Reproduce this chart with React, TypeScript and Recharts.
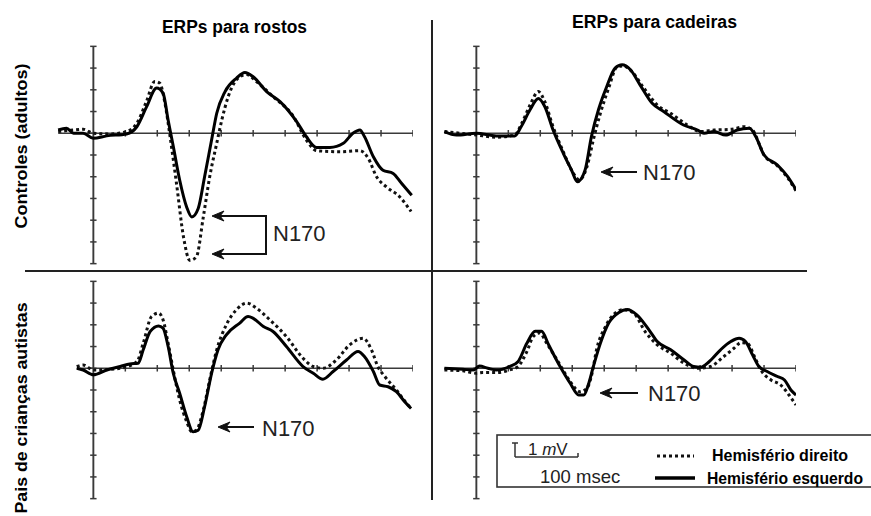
import React from 'react';
import { LineChart, Line, XAxis, YAxis, ReferenceLine } from 'recharts';

// [tempo em ms, amplitude em unidades de marca do eixo]
type Pt = [number, number];

const timeTicks = [50, 100, 150, 200, 250, 300, 350, 400, 450, 500];
const voltTicks = [-6, -5, -4, -3, -2, -1, 0, 1, 2, 3, 4];

const rostosControlesDireito: Pt[] = [
  [-55, 0.08], [-31, 0.15], [-16, 0.18], [0, 0], [26, -0.03], [52, 0.08], [68, 0.46],
  [83, 1.46], [96, 2.38], [104, 2.3], [112, 1.38], [120, -0.15], [130, -2.3], [141, -4.77],
  [151, -5.85], [161, -5.7], [172, -3.85], [182, -2.0], [193, -0.46], [201, 0.62], [211, 1.69],
  [229, 2.6], [240, 2.7], [255, 2.38], [281, 1.69], [313, 0.77], [333, -0.3], [349, -0.8],
  [385, -0.85], [417, -0.8], [430, -1.15], [443, -2.0], [458, -2.46], [479, -2.92], [497, -3.6],
];
const rostosControlesEsquerdo: Pt[] = [
  [-55, 0.15], [-42, 0.23], [-31, 0], [-16, 0], [0, -0.23], [21, -0.12], [52, -0.03], [68, 0.3],
  [83, 1.2], [99, 2.08], [109, 1.85], [117, 0.6], [125, -0.6], [135, -2.15], [146, -3.4],
  [154, -3.85], [164, -3.46], [174, -2.0], [185, -0.3], [193, 0.92], [206, 1.92], [224, 2.54],
  [237, 2.8], [250, 2.6], [271, 1.92], [292, 1.46], [318, 0.54], [333, -0.15], [349, -0.65],
  [370, -0.65], [391, -0.46], [406, 0], [417, 0.15], [424, -0.15], [438, -1.08], [453, -1.7],
  [469, -1.85], [482, -2.3], [498, -2.85],
];

const cadeirasControlesDireito: Pt[] = [
  [-50, 0.08], [0, -0.08], [31, -0.18], [60, -0.08], [71, 0.46], [84, 1.3], [97, 1.92],
  [107, 1.46], [120, 0.3], [136, -0.85], [152, -1.85], [161, -2.15], [173, -1.54], [183, -0.3],
  [194, 0.92], [207, 2.08], [220, 3.05], [230, 3.1], [243, 2.85], [262, 2.08], [283, 1.3],
  [304, 0.92], [330, 0.38], [351, 0.08], [372, 0.15], [398, 0.18], [419, 0.3], [432, 0.15],
  [442, -0.46], [450, -1.0], [471, -1.5], [487, -2.05], [500, -2.65],
];
const cadeirasControlesEsquerdo: Pt[] = [
  [-50, 0.08], [-31, -0.08], [0, 0], [31, -0.12], [60, -0.12], [70, 0.3], [84, 1.08], [97, 1.6],
  [107, 1.23], [120, 0.15], [136, -0.92], [149, -1.7], [158, -2.23], [170, -1.7], [180, -0.15],
  [191, 1.08], [204, 2.15], [217, 3.0], [228, 3.15], [241, 2.92], [256, 2.23], [275, 1.38],
  [293, 1.0], [324, 0.38], [346, 0.15], [356, 0], [372, 0.08], [390, -0.08], [408, 0.15],
  [427, 0.23], [437, -0.15], [450, -1.0], [471, -1.46], [487, -2.0], [500, -2.6],
];

const rostosPaisDireito: Pt[] = [
  [-26, 0.08], [-16, 0.15], [0, -0.08], [42, 0], [68, 0.3], [78, 1.15], [91, 2.38], [102, 2.54],
  [109, 2.23], [117, 1.15], [125, -0.08], [135, -1.46], [146, -2.46], [154, -2.92], [161, -2.85],
  [172, -1.92], [182, -0.54], [193, 0.85], [208, 2.0], [224, 2.7], [240, 3.0], [255, 2.77],
  [276, 2.23], [302, 1.46], [328, 0.46], [344, 0.08], [359, 0], [380, 0.38], [401, 1.08],
  [422, 1.38], [435, 0.85], [445, 0.08], [456, -0.38], [474, -1.0], [487, -1.5], [497, -1.85],
];
const rostosPaisEsquerdo: Pt[] = [
  [-26, 0], [-16, -0.08], [0, -0.3], [21, -0.08], [42, 0.08], [57, 0.2], [70, 0.23], [78, 0.85],
  [89, 1.7], [102, 1.95], [109, 1.85], [117, 1.0], [125, -0.23], [135, -1.15], [146, -2.23],
  [156, -2.92], [164, -2.85], [174, -1.77], [185, -0.23], [195, 0.85], [208, 1.54], [229, 2.08],
  [242, 2.38], [250, 2.3], [266, 1.92], [281, 1.69], [302, 1.0], [328, 0.08], [344, -0.23],
  [359, -0.5], [375, -0.15], [396, 0.38], [414, 0.77], [424, 0.54], [438, -0.15], [448, -0.77],
  [461, -0.85], [474, -1.08], [487, -1.54], [497, -1.85],
];

const cadeirasPaisDireito: Pt[] = [
  [-50, -0.08], [-21, -0.12], [0, -0.23], [10, -0.2], [31, -0.2], [52, -0.08], [65, 0.08],
  [79, 0.77], [89, 1.46], [99, 1.62], [110, 1.15], [131, 0.15], [147, -0.62], [162, -1.08],
  [173, -0.92], [181, -0.23], [188, 0.85], [202, 1.92], [217, 2.54], [230, 2.7], [246, 2.54],
  [264, 1.69], [283, 1.08], [304, 0.69], [325, 0.23], [346, 0], [366, 0.08], [387, 0.54],
  [403, 0.92], [414, 1.18], [424, 1.15], [435, 0.54], [445, -0.08], [461, -0.54], [476, -0.77],
  [489, -1.23], [500, -1.69],
];
const cadeirasPaisEsquerdo: Pt[] = [
  [-50, 0], [-21, -0.05], [-5, -0.08], [5, 0.1], [18, 0], [31, -0.08], [52, 0.08], [65, 0.3],
  [79, 1.15], [92, 1.7], [102, 1.7], [113, 1.08], [131, 0.08], [147, -0.7], [160, -1.23],
  [168, -1.23], [175, -0.77], [183, 0.08], [194, 1.15], [207, 2.08], [223, 2.57], [236, 2.7],
  [251, 2.46], [270, 1.77], [283, 1.23], [304, 0.85], [325, 0.38], [340, 0.08], [351, 0.05],
  [364, 0.3], [382, 0.85], [398, 1.23], [411, 1.38], [421, 1.23], [432, 0.62], [442, 0.08],
  [455, -0.15], [471, -0.38], [482, -0.54], [492, -1.0], [500, -1.23],
];

const toRows = (pts: Pt[]) => pts.map(([t, v]) => ({ t, v }));

const CHART_W = 358;
const CHART_H = 226;
const AXIS = '#3a3a3a';
const FONT = '"Liberation Sans", Arial, sans-serif';

interface PanelProps {
  left: number;
  top: number;
  axisStart: number;
  direito: Pt[];
  esquerdo: Pt[];
}

const Panel: React.FC<PanelProps> = ({ left, top, axisStart, direito, esquerdo }) => (
  <div style={{ position: 'absolute', left, top }}>
    <LineChart width={CHART_W} height={CHART_H} margin={{ top: 0, right: 0, bottom: 0, left: 0 }}>
      <XAxis type="number" dataKey="t" domain={[-60, 500]} hide allowDataOverflow />
      <YAxis type="number" domain={[-6.2, 4.2]} hide allowDataOverflow />
      <ReferenceLine segment={[{ x: axisStart, y: 0 }, { x: 500, y: 0 }]} stroke={AXIS} strokeWidth={1.7} />
      <ReferenceLine segment={[{ x: 0, y: -6 }, { x: 0, y: 4 }]} stroke={AXIS} strokeWidth={1.9} />
      {timeTicks.map((t) => (
        <ReferenceLine key={'x' + t} segment={[{ x: t, y: -0.15 }, { x: t, y: 0.15 }]} stroke={AXIS} strokeWidth={1.5} />
      ))}
      {voltTicks.map((v) => (
        <ReferenceLine key={'y' + v} segment={[{ x: -5, y: v }, { x: 5, y: v }]} stroke={AXIS} strokeWidth={1.5} />
      ))}
      <Line data={toRows(direito)} dataKey="v" type="monotone" stroke="#111" strokeWidth={3}
        strokeDasharray="3 3" dot={false} activeDot={false} isAnimationActive={false} />
      <Line data={toRows(esquerdo)} dataKey="v" type="monotone" stroke="#000" strokeWidth={3}
        dot={false} activeDot={false} isAnimationActive={false} />
    </LineChart>
  </div>
);

const Arrow: React.FC<{ tip: number; tail: number; y: number }> = ({ tip, tail, y }) => (
  <g>
    <line x1={tip + 6} y1={y} x2={tail} y2={y} stroke="#111" strokeWidth={2} />
    <polygon points={`${tip},${y} ${tip + 12},${y - 5} ${tip + 8},${y} ${tip + 12},${y + 5}`} fill="#111" stroke="#111" strokeWidth={1} />
  </g>
);

const App: React.FC = () => (
  <div style={{ position: 'absolute', left: 0, top: 0, width: 871, height: 516, background: '#fff', overflow: 'hidden', fontFamily: FONT }}>
    <Panel left={55} top={42} axisStart={-55} direito={rostosControlesDireito} esquerdo={rostosControlesEsquerdo} />
    <Panel left={438} top={42} axisStart={-50} direito={cadeirasControlesDireito} esquerdo={cadeirasControlesEsquerdo} />
    <Panel left={55} top={277} axisStart={-26} direito={rostosPaisDireito} esquerdo={rostosPaisEsquerdo} />
    <Panel left={438} top={277} axisStart={-50} direito={cadeirasPaisDireito} esquerdo={cadeirasPaisEsquerdo} />

    <svg width={871} height={516} style={{ position: 'absolute', left: 0, top: 0, pointerEvents: 'none' }}>
      <line x1={432} y1={20} x2={432} y2={500} stroke="#222" strokeWidth={2} />
      <line x1={25} y1={271} x2={807} y2={271} stroke="#222" strokeWidth={2} />

      <text x={162} y={33} fontSize={18} fontWeight="bold" fill="#000" textLength={145} lengthAdjust="spacingAndGlyphs">ERPs para rostos</text>
      <text x={572} y={28} fontSize={18} fontWeight="bold" fill="#000" textLength={165} lengthAdjust="spacingAndGlyphs">ERPs para cadeiras</text>

      <text transform="translate(27,146) rotate(-90)" textAnchor="middle" fontSize={16.5} fontWeight="bold" fill="#000" textLength={165} lengthAdjust="spacingAndGlyphs">Controles (adultos)</text>
      <text transform="translate(27,408) rotate(-90)" textAnchor="middle" fontSize={16.5} fontWeight="bold" fill="#000" textLength={211} lengthAdjust="spacingAndGlyphs">Pais de crianças autistas</text>

      {/* N170 */}
      <Arrow tip={212} tail={266} y={216} />
      <Arrow tip={212} tail={266} y={254} />
      <line x1={266} y1={215} x2={266} y2={255} stroke="#111" strokeWidth={2} />
      <text x={273} y={241} fontSize={22} fill="#222">N170</text>

      <Arrow tip={601} tail={637} y={172} />
      <text x={643} y={180} fontSize={22} fill="#222">N170</text>

      <Arrow tip={218} tail={254} y={427} />
      <text x={262} y={436} fontSize={22} fill="#222">N170</text>

      <Arrow tip={600} tail={638} y={393} />
      <text x={648} y={401} fontSize={22} fill="#222">N170</text>

      {/* legenda */}
      <rect x={497} y={435} width={390} height={52} fill="#fff" stroke="#333" strokeWidth={1.6} />
      <line x1={515} y1={443} x2={515} y2={457} stroke="#333" strokeWidth={1.5} />
      <line x1={512} y1={443} x2={518} y2={443} stroke="#333" strokeWidth={1.5} />
      <line x1={515} y1={457} x2={578} y2={457} stroke="#333" strokeWidth={1.5} />
      <line x1={578} y1={453} x2={578} y2={457} stroke="#333" strokeWidth={1.5} />
      <text x={528} y={455} fontSize={17} fill="#222">1 <tspan fontStyle="italic">m</tspan>V</text>
      <text x={540} y={483} fontSize={18.5} fill="#222">100 msec</text>
      <line x1={657} y1={456} x2={694} y2={456} stroke="#111" strokeWidth={3} strokeDasharray="3 3" />
      <line x1={655} y1={478} x2={695} y2={478} stroke="#000" strokeWidth={3.5} />
      <text x={712} y={461} fontSize={16} fontWeight="bold" fill="#000" textLength={136} lengthAdjust="spacingAndGlyphs">Hemisfério direito</text>
      <text x={707} y={484} fontSize={16} fontWeight="bold" fill="#000" textLength={156} lengthAdjust="spacingAndGlyphs">Hemisfério esquerdo</text>
    </svg>
  </div>
);

export default App;
